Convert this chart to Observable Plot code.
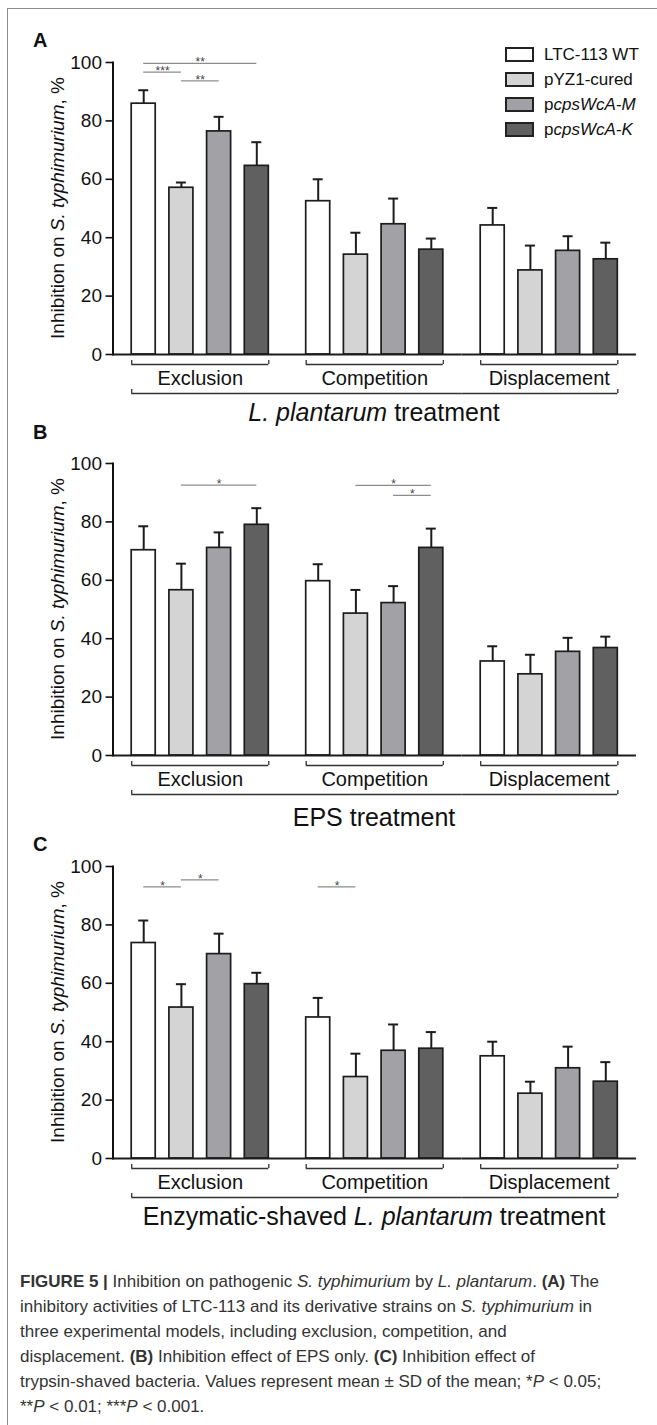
<!DOCTYPE html>
<html><head><meta charset="utf-8">
<script src="https://cdn.jsdelivr.net/npm/d3@7"></script>
<script src="https://cdn.jsdelivr.net/npm/@observablehq/plot@0.6"></script>
<style>
html,body{margin:0;padding:0;background:#fff;}
#page{position:relative;width:657px;height:1425px;overflow:hidden;font-family:"Liberation Sans",Arial,sans-serif;color:#111;}
#frame{position:absolute;left:7px;top:8px;width:700px;height:1500px;border:1.5px solid #8c8c8c;box-sizing:border-box;}
.abs{position:absolute;white-space:nowrap;line-height:1;}
.plotwrap{position:absolute;left:0;}
.plotwrap svg{overflow:visible;}
.plotwrap [aria-label="y-axis tick"]{stroke-width:1.6px;}
.plotwrap [aria-label="frame"]{stroke-width:2px;}
.letter{font-weight:bold;font-size:20px;}
.title{font-size:25px;transform:translateX(-50%);}
.ylab{font-size:19px;transform:translate(-50%,-50%) rotate(-90deg);}
.legend{position:absolute;left:505px;top:42px;font-size:17px;}
.legend .row{display:flex;align-items:center;height:25px;}
.legend .sw{width:29px;height:15px;border:2px solid #222;box-sizing:border-box;margin-right:10px;}
#caption{position:absolute;left:20px;top:1269px;font-size:17px;line-height:25px;color:#333;white-space:nowrap;}
</style></head><body>
<div id="page"><div id="frame"></div></div>
<script>
const groups = ["Exclusion", "Competition", "Displacement"];
const strains = ["LTC-113 WT", "pYZ1-cured", "pcpsWcA-M", "pcpsWcA-K"];
const strainColors = ["#ffffff", "#d4d4d4", "#a2a2a6", "#606060"];

// rows: Exclusion, Competition, Displacement; columns: strains
const meanA = [[85.9, 57.1, 76.4, 64.6], [52.5, 34.2, 44.6, 35.9], [44.2, 28.8, 35.5, 32.6]];
const sdA   = [[4.6, 1.8, 5.0, 8.1], [7.5, 7.5, 8.8, 3.8], [6.0, 8.5, 5.0, 5.7]];
const meanB = [[70.3, 56.6, 71.1, 79.0], [59.7, 48.6, 52.2, 71.1], [32.2, 27.8, 35.5, 36.8]];
const sdB   = [[8.2, 9.1, 5.3, 5.7], [5.8, 8.1, 5.8, 6.6], [5.2, 6.7, 4.8, 3.9]];
const meanC = [[73.8, 51.7, 70.0, 59.7], [48.3, 27.9, 36.9, 37.6], [35.0, 22.2, 30.9, 26.3]];
const sdC   = [[7.7, 8.0, 7.0, 3.9], [6.7, 8.0, 9.0, 5.7], [5.0, 4.1, 7.4, 6.7]];

// significance: group, from strain index, to strain index, height (%), stars
const sigA = [
  {group: "Exclusion", from: 0, to: 3, y: 99.7, label: "**"},
  {group: "Exclusion", from: 0, to: 1, y: 96.7, label: "***"},
  {group: "Exclusion", from: 1, to: 2, y: 93.7, label: "**"}
];
const sigB = [
  {group: "Exclusion", from: 1, to: 3, y: 92.6, label: "*"},
  {group: "Competition", from: 1, to: 3, y: 92.5, label: "*"},
  {group: "Competition", from: 2, to: 3, y: 89.1, label: "*"}
];
const sigC = [
  {group: "Exclusion", from: 0, to: 1, y: 93.0, label: "*"},
  {group: "Exclusion", from: 1, to: 2, y: 95.4, label: "*"},
  {group: "Competition", from: 0, to: 1, y: 93.0, label: "*"}
];
const yTicks = [0, 20, 40, 60, 80, 100];

const W = 657, ML = 112.5, MR = 21, MT = 22, PH = 292, MB = 45;
const PI = 0.363, PO = 0.496;
const facetW = (W - ML - MR) / groups.length;
const step = facetW / (strains.length - PI + 2 * PO);
const bw = step * (1 - PI);
const edge = PO * step; // distance from outer bar edge to facet edge
const ink = "#1c1c1c";

function panel(means, sds, sigs) {
  const rows = groups.flatMap((g, i) => strains.map((s, j) => ({group: g, strain: s, mean: means[i][j], sd: sds[i][j]})));
  const sig = sigs.map(d => ({...d, s1: strains[d.from], s2: strains[d.to], span: d.to - d.from}));
  const first = () => strains[0], last = () => strains[strains.length - 1], zero = () => 0;
  const br = {stroke: "#333", strokeWidth: 1.3};
  return Plot.plot({
    width: W, height: MT + PH + MB,
    marginLeft: ML, marginRight: MR, marginTop: MT, marginBottom: MB,
    style: {fontFamily: "'Liberation Sans', Arial, sans-serif", fontSize: "19px", color: "#111", background: "transparent"},
    fx: {domain: groups, padding: 0, round: false, axis: null},
    x: {domain: strains, paddingInner: PI, paddingOuter: PO, round: false, axis: null},
    y: {domain: [0, 100], ticks: yTicks, tickSize: 7, tickPadding: 4, label: null, line: true},
    color: {domain: strains, range: strainColors},
    marks: [
      Plot.barY(rows, {fx: "group", x: "strain", y: "mean", fill: "strain", stroke: ink, strokeWidth: 1.7}),
      Plot.ruleX(rows, {fx: "group", x: "strain", y1: "mean", y2: d => d.mean + d.sd, stroke: ink, strokeWidth: 2}),
      Plot.tickY(rows, {fx: "group", x: "strain", y: d => d.mean + d.sd, insetLeft: (bw - 10) / 2, insetRight: (bw - 10) / 2, stroke: ink, strokeWidth: 2}),
      Plot.ruleY([0], {stroke: ink, strokeWidth: 2}),
      // significance bars
      Plot.ruleY(sig, {fx: "group", x1: "s1", x2: "s2", y: "y", insetLeft: bw / 2, insetRight: bw / 2, stroke: "#8c8c8c", strokeWidth: 1.3}),
      ...[1, 2, 3].map(k => Plot.text(sig.filter(d => d.span === k), {fx: "group", x: "s1", y: "y", text: "label", dx: k * step / 2, dy: -1, fontSize: 12, fill: "#444"})),
      // group brackets
      Plot.ruleY(groups, {fx: d => d, x1: first, x2: last, y: zero, dy: 10, ...br}),
      Plot.ruleX(groups, {fx: d => d, x: first, y1: zero, y2: zero, dx: -bw / 2, dy: 10, insetTop: -4, ...br}),
      Plot.ruleX(groups, {fx: d => d, x: last, y1: zero, y2: zero, dx: bw / 2, dy: 10, insetTop: -4, ...br}),
      Plot.text(groups, {fx: d => d, text: d => d, frameAnchor: "bottom", lineAnchor: "middle", dy: 24, fontSize: 20}),
      // overall bracket (one segment per facet, joined across facets)
      Plot.ruleY([groups[0]], {fx: d => d, x1: first, x2: last, y: zero, dy: 39, insetRight: -edge, ...br}),
      Plot.ruleY([groups[1]], {fx: d => d, x1: first, x2: last, y: zero, dy: 39, insetLeft: -edge, insetRight: -edge, ...br}),
      Plot.ruleY([groups[2]], {fx: d => d, x1: first, x2: last, y: zero, dy: 39, insetLeft: -edge, ...br}),
      Plot.ruleX([groups[0]], {fx: d => d, x: first, y1: zero, y2: zero, dx: -bw / 2, dy: 39, insetTop: -4, ...br}),
      Plot.ruleX([groups[2]], {fx: d => d, x: last, y1: zero, y2: zero, dx: bw / 2, dy: 39, insetTop: -4, ...br})
    ]
  });
}

const page = document.getElementById("page");
function add(html, cls, left, top) {
  const d = document.createElement("div");
  d.className = "abs " + cls;
  d.style.left = left + "px";
  d.style.top = top + "px";
  d.innerHTML = html;
  page.appendChild(d);
  return d;
}
const ylabel = "Inhibition on <i>S. typhimurium</i>, %";
const panels = [
  {letter: "A", means: meanA, sds: sdA, sig: sigA, top: 40, title: "<i>L. plantarum</i> treatment", titleBase: 421},
  {letter: "B", means: meanB, sds: sdB, sig: sigB, top: 441.3, title: "EPS treatment", titleBase: 826},
  {letter: "C", means: meanC, sds: sdC, sig: sigC, top: 843.5, title: "Enzymatic-shaved <i>L. plantarum</i> treatment", titleBase: 1225}
];
const letterBase = [46.7, 438.5, 851];
panels.forEach((p, i) => {
  const wrap = document.createElement("div");
  wrap.className = "plotwrap";
  wrap.style.top = p.top + "px";
  wrap.appendChild(panel(p.means, p.sds, p.sig));
  page.appendChild(wrap);
  add(p.letter, "letter", 33, letterBase[i] - 17);
  add(p.title, "title", 374, p.titleBase - 21.2);
  add(ylabel, "ylab", 57, p.top + MT + PH / 2);
});

// legend
const legend = document.createElement("div");
legend.className = "legend";
const legendLabels = ["LTC-113 WT", "pYZ1-cured", "p<i>cpsWcA-M</i>", "p<i>cpsWcA-K</i>"];
legendLabels.forEach((lab, i) => {
  const r = document.createElement("div");
  r.className = "row";
  r.innerHTML = `<div class="sw" style="background:${strainColors[i]}"></div><span>${lab}</span>`;
  legend.appendChild(r);
});
page.appendChild(legend);

// caption
const captionLines = [
  "<b>FIGURE 5 |</b> Inhibition on pathogenic <i>S. typhimurium</i> by <i>L. plantarum</i>. <b>(A)</b> The",
  "inhibitory activities of LTC-113 and its derivative strains on <i>S. typhimurium</i> in",
  "three experimental models, including exclusion, competition, and",
  "displacement. <b>(B)</b> Inhibition effect of EPS only. <b>(C)</b> Inhibition effect of",
  "trypsin-shaved bacteria. Values represent mean ± SD of the mean; *<i>P</i> &lt; 0.05;",
  "**<i>P</i> &lt; 0.01; ***<i>P</i> &lt; 0.001."
];
const cap = document.createElement("div");
cap.id = "caption";
cap.innerHTML = captionLines.map(l => `<div>${l}</div>`).join("");
page.appendChild(cap);
</script>
</body></html>
